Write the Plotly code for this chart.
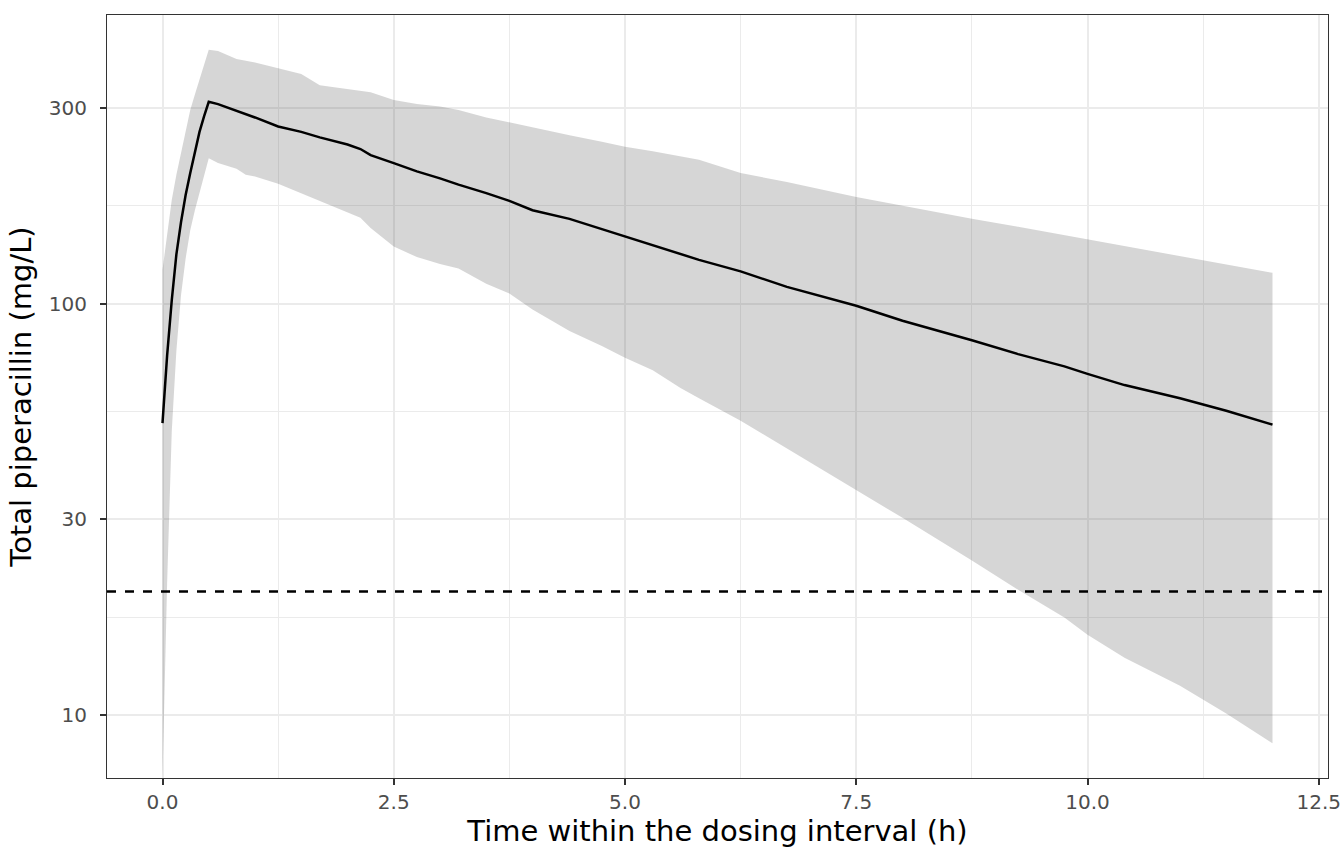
import numpy as np
import plotly.graph_objects as go

# время внутри интервала дозирования (ч)
time_h = [0, 0.05, 0.1, 0.15, 0.2, 0.25, 0.3, 0.35, 0.4, 0.45, 0.5,
          0.6, 0.8, 0.9, 1.0, 1.25, 1.5, 1.7, 2.0, 2.14, 2.25, 2.5, 2.75,
          3.0, 3.2, 3.5, 3.75, 4.0, 4.4, 4.75, 5.0, 5.3, 5.6, 5.8, 6.25,
          6.75, 7.5, 8.0, 8.75, 9.25, 9.75, 10.0, 10.4, 11.0, 11.5, 12.0]

# медиана концентрации (mg/L)
conc_median = [51.3, 75, 102, 132, 158, 184, 208, 234, 262, 286, 310,
               306, 295, 289, 284, 270, 262, 254, 244, 238, 230, 220, 210,
               202, 195, 186, 178, 169, 161, 152, 146, 139, 132, 128, 120,
               110, 99, 91, 81.6, 75.5, 70.5, 67.6, 63.5, 59, 55, 50.9]

# верхняя граница интервала
conc_upper = [121, 147, 179, 206, 234, 265, 296, 323, 351, 381, 415,
              412, 394, 390, 386, 374, 362, 340, 333, 330, 327, 313, 306,
              302, 296, 284, 276, 268, 257, 248, 241, 235, 228, 224, 208,
              198, 182, 173, 161, 154, 147, 143.5, 138, 131, 125, 119]

# нижняя граница интервала (0 при t=0 -> уходит за нижний край)
conc_lower = [0, 21, 49, 77, 105, 129, 151, 169, 187, 206, 226,
              220, 213, 206, 204, 196, 186, 178, 167, 162, 153, 138, 130,
              125, 122, 112, 106, 97, 86, 79, 74, 69, 62.5, 59, 52,
              44.5, 35.3, 30.2, 23.8, 20.2, 17.3, 15.7, 13.8, 11.8, 10.1, 8.55]

target_conc = 20

x_tickvals = [0, 2.5, 5, 7.5, 10, 12.5]
x_ticktext = ["0.0", "2.5", "5.0", "7.5", "10.0", "12.5"]
x_minor = [1.25, 3.75, 6.25, 8.75, 11.25]
y_tickvals = [10, 30, 100, 300]
y_ticktext = ["10", "30", "100", "300"]

# диапазоны как в ggplot (расширение 5%)
t_span = max(time_h) - min(time_h)
x_range = [min(time_h) - 0.05 * t_span, max(time_h) + 0.05 * t_span]
log_lo = np.log10(min(v for v in conc_lower if v > 0))
log_hi = np.log10(max(conc_upper))
log_span = log_hi - log_lo
y_range = [log_lo - 0.05 * log_span, log_hi + 0.05 * log_span]

# минорные линии сетки - середины между основными в лог-шкале
y_minor = [10 ** ((np.log10(a) + np.log10(b)) / 2) for a, b in zip(y_tickvals[:-1], y_tickvals[1:])]

lower_plot = [v if v > 0 else 10 ** y_range[0] for v in conc_lower]

fig = go.Figure()

fig.add_trace(
    go.Scatter(
        x=time_h + time_h[::-1],
        y=conc_upper + lower_plot[::-1],
        fill="toself",
        fillcolor="rgba(51,51,51,0.2)",
        line=dict(width=0),
        mode="lines",
        hoverinfo="skip",
        showlegend=False
    )
)

fig.add_trace(
    go.Scatter(
        x=time_h,
        y=conc_median,
        mode="lines",
        line=dict(color="black", width=2.5),
        showlegend=False
    )
)

fig.add_hline(y=target_conc, line=dict(color="black", width=2.5, dash="dash"))

axis_common = dict(
    showline=True,
    linecolor="#333333",
    linewidth=1.2,
    mirror=True,
    ticks="outside",
    ticklen=6,
    tickwidth=2,
    tickcolor="#333333",
    tickfont=dict(family="DejaVu Sans", size=20, color="#4D4D4D"),
    ticklabeloverflow="allow",
    automargin=False,
    showgrid=True,
    gridcolor="#EBEBEB",
    gridwidth=2,
    zeroline=False,
)

fig.update_layout(
    width=1344,
    height=864,
    paper_bgcolor="white",
    plot_bgcolor="white",
    margin=dict(l=107, r=16, t=15, b=86),
    font=dict(family="DejaVu Sans", color="black"),
    xaxis=dict(
        axis_common,
        range=x_range,
        tickvals=x_tickvals,
        ticktext=x_ticktext,
        ticklabelstandoff=0,
        minor=dict(tickvals=x_minor, showgrid=True, gridcolor="#EBEBEB", gridwidth=1, ticks=""),
        title=dict(text="Time within the dosing interval (h)",
                   font=dict(family="DejaVu Sans", size=29, color="black"), standoff=5),
    ),
    yaxis=dict(
        axis_common,
        type="log",
        range=y_range,
        tickvals=y_tickvals,
        ticktext=y_ticktext,
        ticklabelstandoff=9,
        minor=dict(tickvals=y_minor, showgrid=True, gridcolor="#EBEBEB", gridwidth=1, ticks=""),
        title=dict(text="Total piperacillin (mg/L)",
                   font=dict(family="DejaVu Sans", size=29, color="black"), standoff=8),
    ),
)

# убираем стандартный отступ body, чтобы фигура заняла всё окно
fig.write_html("out.html", config={"displayModeBar": False},
               post_script="document.body.style.margin='0';")
